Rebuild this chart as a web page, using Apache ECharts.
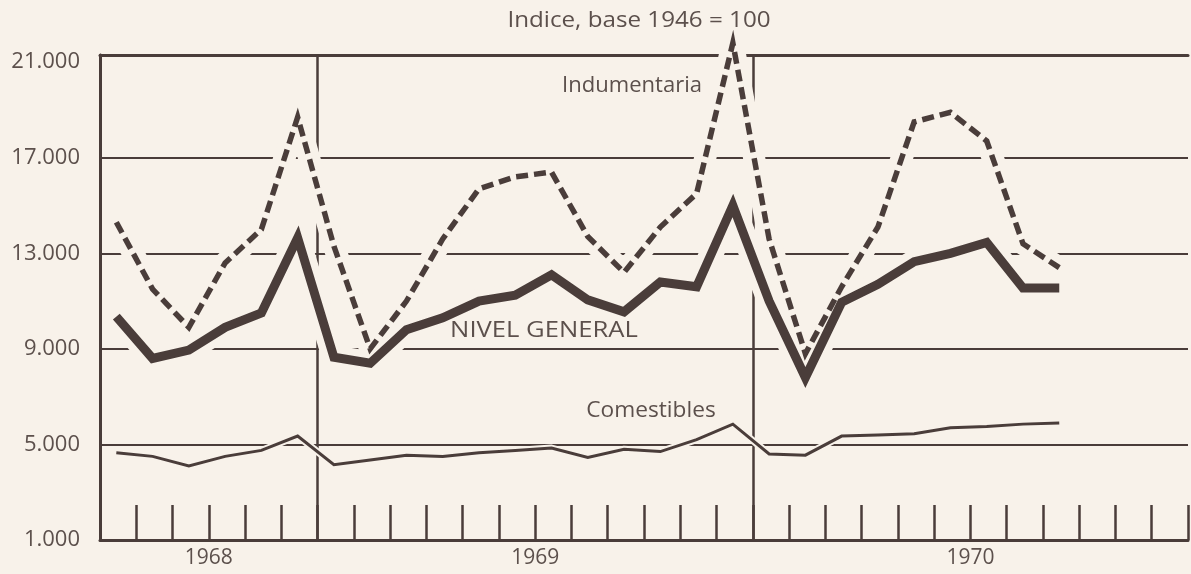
<!DOCTYPE html>
<html>
<head>
<meta charset="utf-8">
<title>Indice, base 1946 = 100</title>
<script src="https://cdn.jsdelivr.net/npm/echarts@6/dist/echarts.min.js"></script>
<style>
  html, body { margin: 0; padding: 0; background: #f8f2ea; }
  #chart { width: 1191px; height: 574px; }
</style>
</head>
<body>
<div id="chart"></div>
<script>
// meses: julio 1968 - septiembre 1970
const meses = [
  'jul 68', 'ago 68', 'sep 68', 'oct 68', 'nov 68', 'dic 68',
  'ene 69', 'feb 69', 'mar 69', 'abr 69', 'may 69', 'jun 69',
  'jul 69', 'ago 69', 'sep 69', 'oct 69', 'nov 69', 'dic 69',
  'ene 70', 'feb 70', 'mar 70', 'abr 70', 'may 70', 'jun 70',
  'jul 70', 'ago 70', 'sep 70'
]

const nivelGeneral = [
  10350, 8600, 8950, 9900, 10500, 13650,
  8650, 8400, 9800, 10300, 11000, 11250,
  12100, 11050, 10550, 11800, 11600, 15000,
  11000, 7800, 10950, 11700, 12650, 13000,
  13450, 11550, 11550
]

const indumentaria = [
  14300, 11500, 9900, 12600, 14000, 18700,
  13300, 9000, 11000, 13600, 15700, 16200,
  16400, 13700, 12200, 14100, 15500, 21800,
  13600, 8800, 11600, 14100, 18500, 18900,
  17700, 13400, 12400
]

const comestibles = [
  4650, 4500, 4100, 4500, 4750, 5350,
  4150, 4350, 4550, 4500, 4650, 4750,
  4850, 4450, 4800, 4700, 5200, 5850,
  4600, 4550, 5350, 5400, 5450, 5700,
  5750, 5850, 5900
]

// eje x: 30 meses (jul 68 - dic 70), etiquetas de año
const totalMeses = 30
const anios = ['1968', '1969', '1970']
const posAnios = [3, 12, 24]
const cortesAnio = [6, 18]

const fondo = '#f8f2ea'
const ink = '#4a3d3a'
const textInk = '#5c504c'
const fuente = 'Open Sans'

const etiquetaAnio = {}
posAnios.forEach((p, i) => { etiquetaAnio[p] = anios[i] })

// cada mes se dibuja un poco antes del centro de su intervalo
const aPares = arr => arr.map((v, i) => [i + 0.45, v])

// linea de fondo ancha bajo cada serie: corta la cuadricula como en el dibujo original
const halo = (arr, width, clip) => ({
  type: 'line',
  data: aPares(arr),
  symbol: 'none',
  silent: true,
  clip: clip,
  z: 9,
  emphasis: { disabled: true },
  lineStyle: { color: fondo, width: width, join: 'round', cap: 'round' }
})

const rotulo = (text, x, y, size, scaleX) => ({
  type: 'text',
  x: x,
  y: y,
  z: 20,
  scaleX: scaleX,
  style: {
    text: text,
    fill: textInk,
    font: size + 'px "Open Sans"',
    align: 'center',
    verticalAlign: 'middle'
  }
})

const chart = echarts.init(document.getElementById('chart'))

chart.setOption({
  backgroundColor: fondo,
  animation: false,
  grid: { left: 100, right: 2, top: 55, bottom: 34 },
  xAxis: [
    {
      type: 'value',
      min: 0,
      max: totalMeses,
      interval: 1,
      axisLine: { lineStyle: { color: ink, width: 3 } },
      axisTick: { inside: true, length: 35, lineStyle: { color: ink, width: 2.5 } },
      axisLabel: {
        formatter: v => etiquetaAnio[v] || '',
        color: textInk,
        fontFamily: fuente,
        fontSize: 21,
        margin: 8
      },
      splitLine: { show: false }
    },
    {
      // borde superior del cuadro
      type: 'value',
      position: 'top',
      min: 0,
      max: totalMeses,
      axisLine: { show: true, lineStyle: { color: ink, width: 3 } },
      axisTick: { show: false },
      axisLabel: { show: false },
      splitLine: { show: false }
    }
  ],
  yAxis: [
    {
      type: 'value',
      min: 1000,
      max: 21300,
      interval: 4000,
      axisLine: { show: true, lineStyle: { color: ink, width: 3 } },
      axisTick: { show: false },
      axisLabel: {
        showMaxLabel: false,
        formatter: v => (v / 1000).toFixed(3),
        color: textInk,
        fontFamily: fuente,
        fontSize: 22,
        margin: 20
      },
      splitLine: {
        lineStyle: {
          color: [ink, ink, ink, ink, ink, 'rgba(0,0,0,0)', 'rgba(0,0,0,0)'],
          width: 1.8
        }
      }
    },
    {
      // borde derecho
      type: 'value',
      position: 'right',
      min: 1000,
      max: 21300,
      axisLine: { show: true, lineStyle: { color: ink, width: 2.5 } },
      axisTick: { show: false },
      axisLabel: { show: false },
      splitLine: { show: false }
    }
  ],
  series: [
    halo(comestibles, 7, true),
    halo(nivelGeneral, 24, true),
    halo(indumentaria, 22, false),
    {
      name: 'Comestibles',
      type: 'line',
      data: aPares(comestibles),
      symbol: 'none',
      z: 10,
      lineStyle: { color: ink, width: 3, join: 'miter' },
      markLine: {
        silent: true,
        z: 8,
        symbol: 'none',
        label: { show: false },
        lineStyle: { color: ink, width: 2.5, type: 'solid' },
        data: cortesAnio.map(v => ({ xAxis: v }))
      }
    },
    {
      name: 'Nivel general',
      type: 'line',
      data: aPares(nivelGeneral),
      symbol: 'none',
      z: 11,
      lineStyle: { color: ink, width: 9, join: 'miter', cap: 'butt' }
    },
    {
      name: 'Indumentaria',
      type: 'line',
      data: aPares(indumentaria),
      symbol: 'none',
      clip: false,
      z: 12,
      lineStyle: { color: ink, width: 5.5, type: [12, 6], join: 'miter' }
    }
  ],
  graphic: [
    rotulo('Indice, base 1946 = 100', 639, 21, 22, 1.1),
    rotulo('Indumentaria', 632, 86, 21, 1.05),
    rotulo('NIVEL GENERAL', 544, 331, 21, 1.22),
    rotulo('Comestibles', 651, 411, 21, 1.08)
  ]
})
</script>
</body>
</html>
